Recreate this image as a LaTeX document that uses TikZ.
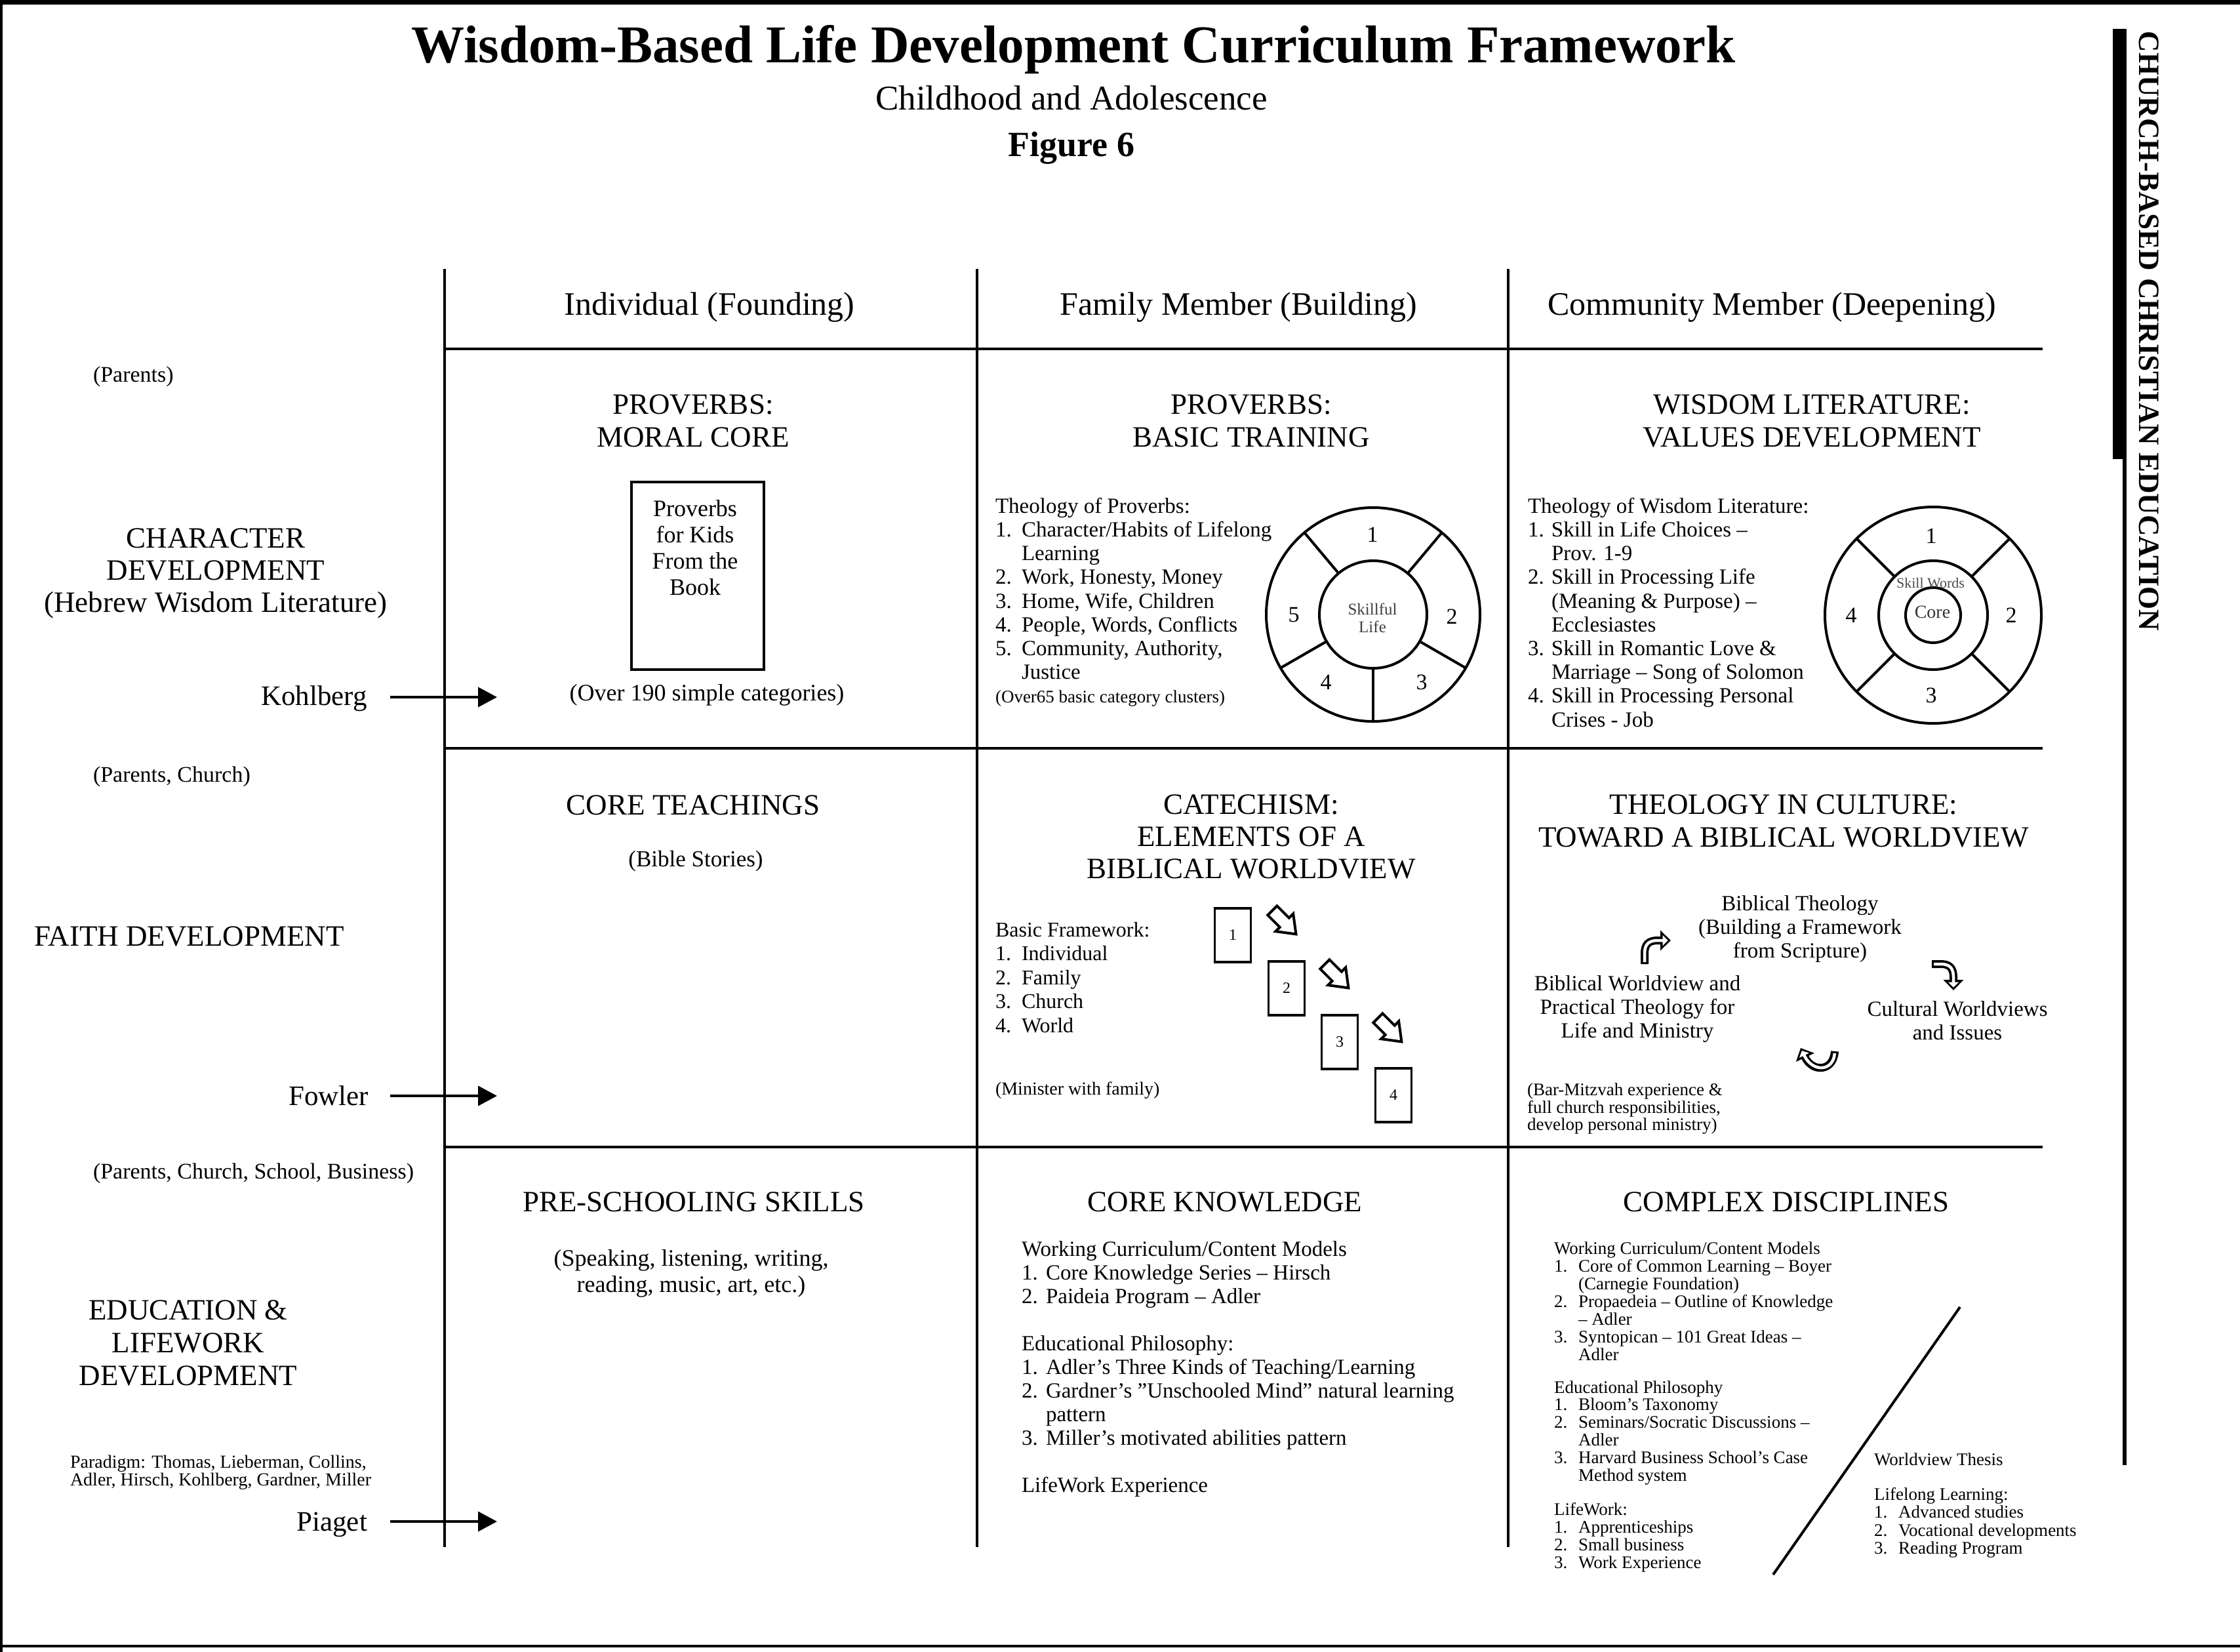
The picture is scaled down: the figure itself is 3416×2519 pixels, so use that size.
\documentclass[tikz,border=0pt]{standalone}
\usepackage{fontspec}
\setmainfont{Liberation Serif}
\usetikzlibrary{arrows.meta}
\newcommand{\setfs}[2]{\fontsize{#1}{#2}\selectfont}
\newcommand{\li}[2]{\makebox[#1][l]{#2}}
\newcommand{\hollowarrow}[1]{%
  \draw[line width=12pt,-{Triangle[length=16pt,width=30pt]}] #1;
  \draw[line width=4.5pt,white,shorten <=3pt,shorten >=4.5pt,-{Triangle[length=8pt,width=16pt]}] #1;}
\tikzset{
  txt/.style={inner sep=0pt, outer sep=0pt},
  gridline/.style={line width=3.5pt},
  colhead/.style={txt, font=\setfs{50}{60}, anchor=base},
  capt/.style={txt, font=\setfs{45}{50}, align=center},
  rowlab/.style={txt, font=\setfs{34}{40}, anchor=base west},
  theory/.style={txt, font=\setfs{43}{50}, anchor=base east},
  bodytxt/.style={txt, font=\setfs{33}{36.2}, align=left, anchor=north west},
  smalltxt/.style={txt, font=\setfs{27}{26.9}, align=left, anchor=north west},
  midc/.style={txt, font=\setfs{33}{36}, align=center, anchor=north},
  devarrow/.style={line width=4pt, -{Triangle[length=29pt,width=30pt]}},
  wheel/.style={line width=4pt},
  num/.style={txt, font=\setfs{34}{40}},
  catbox/.style={draw, line width=3.5pt, minimum width=55pt, minimum height=82pt, inner sep=0pt, font=\setfs{24}{28}},
  blockarrow/.pic={\draw[line width=4pt, fill=white, line join=miter] (-25,-10) -- (1,-10) -- (1,-19) -- (26,0) -- (1,19) -- (1,10) -- (-25,10) -- cycle;}
}
\begin{document}
\begin{tikzpicture}[x=1pt,y=-1pt]
\useasboundingbox (0,0) rectangle (3416,2519);
% frame
\draw[line width=7pt] (0,3.5) -- (3416,3.5);
\draw[line width=4pt] (2,0) -- (2,2519);
\draw[line width=4pt] (0,2510) -- (3416,2510);

% titles
\node[txt, font=\bfseries\setfs{81}{90}, anchor=base] (title) at (1637,95) {Wisdom-Based Life Development Curriculum Framework};
\node[txt, font=\setfs{53}{60}, anchor=base] (subtitle) at (1634,167) {Childhood and Adolescence};
\node[txt, font=\bfseries\setfs{54}{60}, anchor=base] (figno) at (1634,238) {Figure 6};

% side bar
\fill (3222,44) rectangle (3243,700);
\draw[line width=6pt] (3240,700) -- (3240,2234);
\node[txt, font=\bfseries\setfs{45}{50}, rotate=-90] (side) at (3277,505) {CHURCH-BASED CHRISTIAN EDUCATION};

% grid
\coordinate (v1t) at (678,410); \coordinate (v1b) at (678,2359);
\coordinate (v2t) at (1490,410); \coordinate (v2b) at (1490,2359);
\coordinate (v3t) at (2300,410); \coordinate (v3b) at (2300,2359);
\coordinate (h1l) at (678,532); \coordinate (h1r) at (3115,532);
\coordinate (h2l) at (678,1141); \coordinate (h2r) at (3115,1141);
\coordinate (h3l) at (678,1749); \coordinate (h3r) at (3115,1749);
\draw[gridline] (v1t) -- (v1b);
\draw[gridline] (v2t) -- (v2b);
\draw[gridline] (v3t) -- (v3b);
\draw[gridline] (h1l) -- (h1r);
\draw[gridline] (h2l) -- (h2r);
\draw[gridline] (h3l) -- (h3r);

% column headers
\node[colhead] (c1) at (1082,480) {Individual (Founding)};
\node[colhead] (c2) at (1889,480) {Family Member (Building)};
\node[colhead] (c3) at (2702,480) {Community Member (Deepening)};

% row labels
\node[rowlab] (p1) at (142,582) {(Parents)};
\node[rowlab] (p2) at (142,1192) {(Parents, Church)};
\node[rowlab] (p3) at (142,1797) {(Parents, Church, School, Business)};
\node[capt, anchor=north, font=\setfs{45}{49}] (r1) at (329,806) {CHARACTER\\DEVELOPMENT\\(Hebrew Wisdom Literature)};
\node[capt, anchor=base west] (r2) at (52,1442) {FAITH DEVELOPMENT};
\node[capt, anchor=north] (r3) at (287,1983) {EDUCATION \&\\LIFEWORK\\DEVELOPMENT};
\node[txt, font=\setfs{28}{27}, align=left, anchor=north west] (parad) at (107,2219) {Paradigm: Thomas, Lieberman, Collins,\\Adler, Hirsch, Kohlberg, Gardner, Miller};

\node[theory] (kohl) at (560,1075) {Kohlberg};
\node[theory] (fowl) at (562,1685) {Fowler};
\node[theory] (piag) at (560,2334) {Piaget};
\coordinate (ka) at (595,1063); \coordinate (kb) at (758,1063);
\coordinate (fa) at (595,1671); \coordinate (fb) at (758,1671);
\coordinate (pa) at (595,2320); \coordinate (pb) at (758,2320);
\draw[devarrow] (ka) -- (kb);
\draw[devarrow] (fa) -- (fb);
\draw[devarrow] (pa) -- (pb);

% ---- row 1
\node[capt, anchor=north] (h11) at (1057,602) {PROVERBS:\\MORAL CORE};
\node[draw, line width=4pt, minimum width=202pt, minimum height=286pt, inner sep=0pt] (book) at (1064,878) {};
\node[txt, font=\setfs{36}{40}, align=center, anchor=north] (booktxt) at (1060,763) {Proverbs\\for Kids\\From the\\Book};
\node[txt, font=\setfs{36}{40}, anchor=base] (over190) at (1078,1068) {(Over 190 simple categories)};

\node[capt, anchor=north] (h12) at (1908,602) {PROVERBS:\\BASIC TRAINING};
\node[bodytxt] (theoprov) at (1518,759) {Theology of Proverbs:\\
\li{40pt}{1.}Character/Habits of Lifelong\\
\hspace*{40pt}Learning\\
\li{40pt}{2.}Work, Honesty, Money\\
\li{40pt}{3.}Home, Wife, Children\\
\li{40pt}{4.}People, Words, Conflicts\\
\li{40pt}{5.}Community, Authority,\\
\hspace*{40pt}Justice\\
{\setfs{27}{36.2}(Over65 basic category clusters)}};

% wheel 1
\coordinate (w1) at (2094,937);
\draw[wheel] (w1) circle[radius=163];
\draw[wheel] (w1) circle[radius=82];
\foreach \a in {-50,-130,30,150,90} \draw[wheel] ([shift={(\a:82)}]w1) -- ([shift={(\a:163)}]w1);
\node[num] (w1n1) at (2093,815) {1};
\node[num] (w1n2) at (2214,940) {2};
\node[num] (w1n3) at (2168,1040) {3};
\node[num] (w1n4) at (2022,1040) {4};
\node[num] (w1n5) at (1973,938) {5};
\node[txt, font=\setfs{25}{27}, align=center, text=black!75] (w1c) at (2093,942) {Skillful\\Life};

\node[capt, anchor=north] (h13) at (2763,602) {WISDOM LITERATURE:\\VALUES DEVELOPMENT};
\node[bodytxt] (theowis) at (2330,759) {Theology of Wisdom Literature:\\
\li{36pt}{1.}Skill in Life Choices --\\
\hspace*{36pt}Prov. 1-9\\
\li{36pt}{2.}Skill in Processing Life\\
\hspace*{36pt}(Meaning \& Purpose) --\\
\hspace*{36pt}Ecclesiastes\\
\li{36pt}{3.}Skill in Romantic Love \&\\
\hspace*{36pt}Marriage -- Song of Solomon\\
\li{36pt}{4.}Skill in Processing Personal\\
\hspace*{36pt}Crises - Job};

% wheel 2
\coordinate (w2) at (2948,938);
\draw[wheel] (w2) circle[radius=165];
\draw[wheel] (w2) circle[radius=83];
\draw[wheel] (w2) circle[radius=42];
\foreach \a in {45,135,-45,-135} \draw[wheel] ([shift={(\a:83)}]w2) -- ([shift={(\a:165)}]w2);
\node[num] (w2n1) at (2945,817) {1};
\node[num] (w2n2) at (3067,938) {2};
\node[num] (w2n3) at (2945,1060) {3};
\node[num] (w2n4) at (2823,938) {4};
\node[txt, font=\setfs{22}{24}, text=black!70] (w2sw) at (2944,889) {Skill Words};
\node[txt, font=\setfs{28}{30}, text=black!80] (w2core) at (2947,933) {Core};

% ---- row 2
\node[capt, anchor=base] (h21) at (1057,1242) {CORE TEACHINGS};
\node[txt, font=\setfs{35}{40}, anchor=base] (bible) at (1061,1321) {(Bible Stories)};

\node[capt, anchor=north, font=\setfs{45}{49}] (h22) at (1908,1212) {CATECHISM:\\ELEMENTS OF A\\BIBLICAL WORLDVIEW};
\node[txt, font=\setfs{32}{36.5}, align=left, anchor=north west] (basicfw) at (1518,1406) {Basic Framework:\\
\li{40pt}{1.}Individual\\
\li{40pt}{2.}Family\\
\li{40pt}{3.}Church\\
\li{40pt}{4.}World};
\node[txt, font=\setfs{28}{30}, anchor=base west] (minister) at (1518,1669) {(Minister with family)};
\node[catbox] (b1) at (1880,1426) {1};
\node[catbox] (b2) at (1962,1507) {2};
\node[catbox] (b3) at (2043,1589) {3};
\node[catbox] (b4) at (2125,1670) {4};
\pic[rotate=-45] at (1958,1406) {blockarrow};
\pic[rotate=-45] at (2038,1488) {blockarrow};
\pic[rotate=-45] at (2119,1570) {blockarrow};

\node[capt, anchor=north] (h23) at (2720,1212) {THEOLOGY IN CULTURE:\\TOWARD A BIBLICAL WORLDVIEW};
\node[midc] (bibtheo) at (2745,1366) {Biblical Theology\\(Building a Framework\\from Scripture)};
\node[midc] (bibwv) at (2497,1488) {Biblical Worldview and\\Practical Theology for\\Life and Ministry};
\node[midc] (cultwv) at (2985,1527) {Cultural Worldviews\\and Issues};
\node[txt, font=\setfs{27}{26.5}, align=left, anchor=north west] (barm) at (2329,1652) {(Bar-Mitzvah experience \&\\full church responsibilities,\\develop personal ministry)};
\hollowarrow{(2508,1470) -- (2508,1454) .. controls (2508,1440) and (2514,1434) .. (2528,1434) -- (2548,1434)}
\hollowarrow{(2946,1470) -- (2960,1470) .. controls (2973,1470) and (2979,1476) .. (2979,1490) -- (2979,1510)}
\hollowarrow{(2798,1603) .. controls (2796,1634) and (2764,1636) .. (2746,1598)}

% ---- row 3
\node[capt, anchor=base] (h31) at (1058,1847) {PRE-SCHOOLING SKILLS};
\node[txt, font=\setfs{36}{40}, align=center, anchor=north] (speak) at (1054,1905) {(Speaking, listening, writing,\\reading, music, art, etc.)};

\node[capt, anchor=base] (h32) at (1868,1847) {CORE KNOWLEDGE};
\node[bodytxt, font=\setfs{33}{36}] (coreknow) at (1558,1893) {Working Curriculum/Content Models\\
\li{37pt}{1.}Core Knowledge Series -- Hirsch\\
\li{37pt}{2.}Paideia Program -- Adler\\[36pt]
Educational Philosophy:\\
\li{37pt}{1.}Adler's Three Kinds of Teaching/Learning\\
\li{37pt}{2.}Gardner's "Unschooled Mind" natural learning\\
\hspace*{37pt}pattern\\
\li{37pt}{3.}Miller's motivated abilities pattern\\[36pt]
LifeWork Experience};

\node[capt, anchor=base] (h33) at (2724,1847) {COMPLEX DISCIPLINES};
\node[smalltxt] (complex) at (2370,1894) {Working Curriculum/Content Models\\
\li{37pt}{1.}Core of Common Learning -- Boyer\\
\hspace*{37pt}(Carnegie Foundation)\\
\li{37pt}{2.}Propaedeia -- Outline of Knowledge\\
\hspace*{37pt}-- Adler\\
\li{37pt}{3.}Syntopican -- 101 Great Ideas --\\
\hspace*{37pt}Adler\\[23pt]
Educational Philosophy\\
\li{37pt}{1.}Bloom's Taxonomy\\
\li{37pt}{2.}Seminars/Socratic Discussions --\\
\hspace*{37pt}Adler\\
\li{37pt}{3.}Harvard Business School's Case\\
\hspace*{37pt}Method system\\[25pt]
LifeWork:\\
\li{37pt}{1.}Apprenticeships\\
\li{37pt}{2.}Small business\\
\li{37pt}{3.}Work Experience};
\coordinate (dg1) at (2989,1993); \coordinate (dg2) at (2704,2401);
\draw[line width=4pt] (dg1) -- (dg2);
\node[smalltxt, font=\setfs{27}{27.5}] (wvthesis) at (2858,2216) {Worldview Thesis\\[25pt]
Lifelong Learning:\\
\li{37pt}{1.}Advanced studies\\
\li{37pt}{2.}Vocational developments\\
\li{37pt}{3.}Reading Program};
\end{tikzpicture}
\end{document}
